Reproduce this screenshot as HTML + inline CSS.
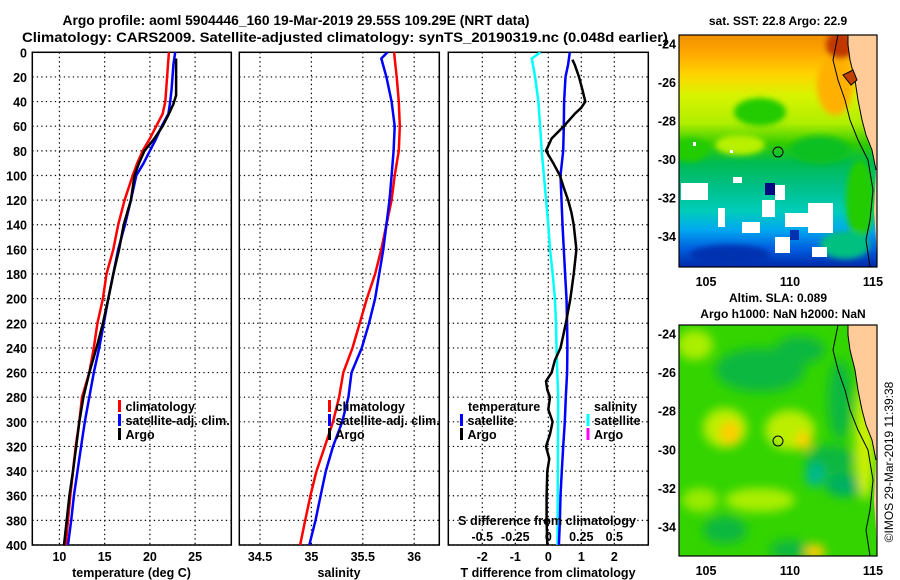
<!DOCTYPE html>
<html><head><meta charset="utf-8">
<style>
html,body{margin:0;padding:0;background:#fff;}
svg{display:block;font-family:"Liberation Sans",Arial,sans-serif;font-weight:bold;}
</style></head>
<body>
<svg id="chart" width="900" height="580" viewBox="0 0 900 580">
<defs>
  <clipPath id="c1"><rect x="32" y="52" width="199" height="493"/></clipPath>
  <clipPath id="c2"><rect x="239" y="52" width="200" height="493"/></clipPath>
  <clipPath id="c3"><rect x="448" y="52" width="200" height="493"/></clipPath>
  <clipPath id="m1"><rect x="679" y="35" width="198" height="232"/></clipPath>
  <clipPath id="m2"><rect x="679" y="325" width="198" height="231"/></clipPath>
  <linearGradient id="sstg" x1="0" y1="0" x2="0" y2="1">
    <stop offset="0" stop-color="#f09000"/>
    <stop offset="0.08" stop-color="#ffa800"/>
    <stop offset="0.17" stop-color="#ffd400"/>
    <stop offset="0.26" stop-color="#d8f400"/>
    <stop offset="0.38" stop-color="#b0ee00"/>
    <stop offset="0.47" stop-color="#30cc00"/>
    <stop offset="0.55" stop-color="#00bb50"/>
    <stop offset="0.66" stop-color="#00c08a"/>
    <stop offset="0.76" stop-color="#00ccbb"/>
    <stop offset="0.84" stop-color="#00a8f0"/>
    <stop offset="0.92" stop-color="#0060e0"/>
    <stop offset="1" stop-color="#0028a8"/>
  </linearGradient>
  <filter id="bl" x="-50%" y="-50%" width="200%" height="200%"><feGaussianBlur stdDeviation="5"/></filter>
  <filter id="bl2" x="-50%" y="-50%" width="200%" height="200%"><feGaussianBlur stdDeviation="3"/></filter>
</defs>

<text x="296" y="25" text-anchor="middle" font-size="13.5" textLength="467" lengthAdjust="spacingAndGlyphs">Argo profile: aoml 5904446_160 19-Mar-2019 29.55S 109.29E (NRT data)</text>
<text x="345" y="42" text-anchor="middle" font-size="13.5" textLength="646" lengthAdjust="spacingAndGlyphs">Climatology: CARS2009. Satellite-adjusted climatology: synTS_20190319.nc (0.048d earlier)</text>

<g id="panels"></g>

<!-- Top map: SST -->
<g>
  <text x="778" y="25" text-anchor="middle" font-size="12">sat. SST: 22.8 Argo: 22.9</text>
  <g clip-path="url(#m1)">
    <rect x="679" y="35" width="198" height="232" fill="url(#sstg)"/>
    <g filter="url(#bl2)">
      <ellipse cx="760" cy="112" rx="26" ry="14" fill="#22cc00"/>
      <ellipse cx="690" cy="150" rx="18" ry="12" fill="#22cc00"/>
      <ellipse cx="820" cy="150" rx="30" ry="14" fill="#11c020"/>
      <ellipse cx="740" cy="145" rx="25" ry="10" fill="#b8f000"/>
      <ellipse cx="835" cy="85" rx="18" ry="30" fill="#ffb000"/>
      <ellipse cx="840" cy="45" rx="14" ry="14" fill="#c03800"/>
      <ellipse cx="860" cy="200" rx="14" ry="40" fill="#22cc00"/>
      <ellipse cx="845" cy="245" rx="25" ry="14" fill="#00c080"/>
      <ellipse cx="730" cy="255" rx="40" ry="10" fill="#0030b0"/>
    </g>
    <g fill="#fff">
      <rect x="681" y="183" width="27" height="17"/><rect x="733" y="177" width="9" height="6"/>
      <rect x="742" y="222" width="18" height="11"/><rect x="775" y="185" width="10" height="15"/>
      <rect x="762" y="200" width="13" height="17"/><rect x="808" y="203" width="25" height="30"/>
      <rect x="775" y="237" width="15" height="16"/><rect x="785" y="213" width="28" height="14"/>
      <rect x="812" y="247" width="15" height="10"/><rect x="718" y="208" width="7" height="19"/>
      <rect x="693" y="142" width="3" height="4"/><rect x="730" y="150" width="3" height="3"/>
    </g>
    <rect x="765" y="183" width="10" height="12" fill="#000a80"/>
    <rect x="790" y="230" width="9" height="10" fill="#0030b0"/>
    <polygon points="848,35 877,35 877,267 877,267 876,240 874,210 876,170 872,150 866,135 862,120 858,100 855,80 850,60 848,45" fill="#ffcc99"/>
    <polyline points="838,35 833,60 838,80 845,100 850,120 858,140 868,160 873,190 870,220 866,240 870,267" fill="none" stroke="#000" stroke-width="1"/>
    <polyline points="848,35 848,45 850,60 855,80 858,100 862,120 866,135 872,150 876,170" fill="none" stroke="#000" stroke-width="1"/>
    <path d="M843,75 l8,10 l6,-5 l-4,-10 z" fill="#c04000" stroke="#000" stroke-width="1"/>
    <circle cx="778" cy="152" r="5" fill="none" stroke="#000" stroke-width="1"/>
  </g>
  <rect x="679" y="35" width="198" height="232" fill="none" stroke="#000" stroke-width="1.2"/>
</g>

<!-- Bottom map: SLA -->
<g>
  <text x="778" y="302" text-anchor="middle" font-size="12">Altim. SLA: 0.089</text>
  <text x="783" y="318" text-anchor="middle" font-size="12">Argo h1000: NaN h2000: NaN</text>
  <g clip-path="url(#m2)">
    <rect x="679" y="325" width="198" height="231" fill="#33d400"/>
    <g filter="url(#bl)">
      <ellipse cx="760" cy="370" rx="45" ry="22" fill="#11b840"/>
      <ellipse cx="800" cy="350" rx="25" ry="14" fill="#11b840"/>
      <ellipse cx="830" cy="460" rx="25" ry="15" fill="#11b840"/>
      <ellipse cx="845" cy="485" rx="20" ry="12" fill="#00b060"/>
      <ellipse cx="815" cy="475" rx="10" ry="12" fill="#00b890"/>
      <ellipse cx="725" cy="530" rx="22" ry="14" fill="#11b840"/>
      <ellipse cx="790" cy="550" rx="20" ry="10" fill="#11b840"/>
      <ellipse cx="725" cy="428" rx="22" ry="20" fill="#bbee00"/>
      <ellipse cx="730" cy="433" rx="10" ry="12" fill="#ffcc00"/>
      <ellipse cx="790" cy="430" rx="25" ry="20" fill="#bbee00"/>
      <ellipse cx="804" cy="441" rx="8" ry="9" fill="#ffd000"/>
      <ellipse cx="695" cy="345" rx="18" ry="15" fill="#aaee00"/>
      <ellipse cx="760" cy="500" rx="35" ry="12" fill="#aaee00"/>
      <ellipse cx="700" cy="500" rx="18" ry="12" fill="#99ea00"/>
      <ellipse cx="815" cy="552" rx="10" ry="8" fill="#ffcc00"/>
      <ellipse cx="840" cy="400" rx="12" ry="40" fill="#11b840"/>
      <ellipse cx="865" cy="440" rx="10" ry="60" fill="#ccf000"/>
    </g>
    <polygon points="848,325 877,325 877,556 876,530 874,500 876,460 872,440 866,425 862,410 858,390 855,370 850,350 848,335" fill="#ffcc99"/>
    <polyline points="838,325 833,350 838,370 845,390 850,410 858,430 868,450 873,480 870,510 866,530 870,556" fill="none" stroke="#000" stroke-width="1"/>
    <polyline points="848,325 848,335 850,350 855,370 858,390 862,410 866,425 872,440 876,460" fill="none" stroke="#000" stroke-width="1"/>
    <circle cx="778" cy="441" r="5" fill="none" stroke="#000" stroke-width="1"/>
  </g>
  <rect x="679" y="325" width="198" height="231" fill="none" stroke="#000" stroke-width="1.2"/>
</g>
<text transform="translate(893,462) rotate(-90)" text-anchor="middle" font-size="12" font-weight="normal">©IMOS 29-Mar-2019 11:39:38</text>

<script>
// ---------- Panel 1: temperature ----------
const tDepth = [0,10,20,30,40,50,60,70,80,90,100,120,140,160,180,200,220,240,260,280,300,320,340,360,380,400];
const tClim = [22.1,22.0,21.9,21.8,21.7,21.4,20.7,20.0,19.2,18.6,18.1,17.2,16.5,15.95,15.2,14.8,14.2,13.8,13.3,12.5,12.2,11.8,11.5,11.2,10.95,10.7];
const tSat = [22.8,22.6,22.5,22.4,22.25,22.05,21.3,20.7,20.0,19.3,18.5,17.9,17.25,16.5,15.95,15.4,14.9,14.4,13.8,13.3,12.8,12.4,12.0,11.6,11.3,10.95];
const tArgoDepth = [5,20,35,42,50,60,70,80,90,100,120,140,160,180,200,220,240,260,280,300,320,340,360,380,400];
const tArgo = [22.9,22.9,22.9,22.6,22.1,21.4,20.5,19.4,18.8,18.3,17.9,17.1,16.6,15.95,15.4,14.8,14.1,13.3,12.65,12.2,11.85,11.5,11.1,10.8,10.5];
const tTicks = [10,15,20,25];
// ---------- Panel 2: salinity ----------
const sDepth = [0,5,20,40,60,80,100,120,140,160,180,200,220,240,260,280,300,320,340,360,380,400];
const sClim = [35.805,35.81,35.83,35.85,35.86,35.85,35.81,35.78,35.73,35.68,35.62,35.54,35.47,35.40,35.31,35.27,35.21,35.13,35.05,34.99,34.94,34.89];
const sSat = [35.74,35.68,35.73,35.78,35.81,35.80,35.78,35.76,35.73,35.70,35.66,35.62,35.56,35.49,35.39,35.36,35.30,35.21,35.14,35.09,35.04,34.98];
const sTicks = [34.5,35,35.5,36];
// ---------- Panel 3: differences ----------
const dArgoDepth = [6,10,20,30,40,45,50,60,70,80,90,100,110,120,130,140,160,180,200,210,220,230,240,250,260,267,274,280,290,300,310,320,330,340,360,380,400];
const dArgoT = [0.73,0.8,0.93,1.03,1.12,1.0,0.8,0.47,0.1,-0.07,0.15,0.35,0.47,0.6,0.7,0.77,0.85,0.77,0.67,0.6,0.53,0.45,0.37,0.2,0.1,-0.07,-0.03,0.05,0,0.13,0.05,-0.07,0.03,-0.03,-0.05,-0.05,-0.03];
const dSatDepth = [0,10,20,40,60,80,100,120,140,160,180,200,220,240,260,280,300,320,340,360,380,400];
const dSatT = [0.65,0.6,0.52,0.48,0.47,0.45,0.37,0.4,0.43,0.47,0.51,0.55,0.57,0.58,0.57,0.53,0.5,0.45,0.41,0.37,0.35,0.32];
const dSatSDepth = [0,5,20,40,60,80,100,120,140,160,180,200,220,240,260,280,400];
const dSatS = [-0.06,-0.125,-0.1,-0.075,-0.062,-0.05,-0.033,-0.017,0,0.0125,0.033,0.05,0.058,0.062,0.068,0.075,0.07];
const dTTicks = [-2,-1,0,1,2];
const dSTicks = [-0.5,-0.25,0,0.25,0.5];
const dSTickLabels = ['-0.5','-0.25','0','0.25','0.5'];
const depthTicks = [0,20,40,60,80,100,120,140,160,180,200,220,240,260,280,300,320,340,360,380,400];
// ---------- Maps ----------
const latTicks = [-24,-26,-28,-30,-32,-34];
const lonTicks = [105,110,115];

const NS = 'http://www.w3.org/2000/svg';
const root = document.getElementById('panels');
function mk(tag, attrs, parent){ const e=document.createElementNS(NS,tag); for(const k in attrs) e.setAttribute(k,attrs[k]); (parent||root).appendChild(e); return e; }

const Y0=52.3, Y1=545;
const yD = d => Y0 + d*(Y1-Y0)/400;
const P = [
  {x0:32.3,x1:231.3,lo:7,hi:29,clip:'c1'},
  {x0:239.3,x1:439.3,lo:34.2987,hi:36.2443,clip:'c2'},
  {x0:448.3,x1:648.3,lo:-3.03,hi:3.03,clip:'c3'}
];
const xf = p => v => p.x0 + (v-p.lo)*(p.x1-p.x0)/(p.hi-p.lo);
const x1f = xf(P[0]), x2f = xf(P[1]), x3f = xf(P[2]);
const x3s = v => x3f(v*4);

function frame(p, xticks, xfn, showY, name){
  const g = mk('g',{});
  
  
  depthTicks.forEach(d=>{
    const gl = mk('line',{x1:p.x0,x2:p.x1,y1:yD(d),y2:yD(d),stroke:'#000','stroke-width':1.2,'stroke-dasharray':'1.3,3.2'},g);
    
    
    if(showY){
      const t = mk('text',{x:27,y:yD(d)+5,'text-anchor':'end','font-size':12.5},g);
      t.textContent = d;
      
      
    }
  });
  xticks.forEach(v=>{
    const gl = mk('line',{x1:xfn(v),x2:xfn(v),y1:Y0,y2:Y1,stroke:'#000','stroke-width':1.2,'stroke-dasharray':'1.3,3.2'},g);
    
    
    const t = mk('text',{x:xfn(v),y:561,'text-anchor':'middle','font-size':12.5},g);
    t.textContent = v;
    
    
  });
  const r = mk('rect',{x:p.x0,y:Y0,width:p.x1-p.x0,height:Y1-Y0,fill:'none',stroke:'#000','stroke-width':1.5},g);
  
  
  return g;
}
function line(depths, vals, xfn, color, w, clip, name){
  const pts = depths.map((d,i)=> xfn(vals[i]).toFixed(1)+','+yD(d).toFixed(1)).join(' ');
  const l = mk('polyline',{points:pts,fill:'none',stroke:color,'stroke-width':w,'stroke-linejoin':'round','clip-path':'url(#'+clip+')'});
  
  
}
function label(x,y,txt,name,opts){
  const t = mk('text',Object.assign({x:x,y:y,'font-size':12.5},opts||{}));
  t.textContent = txt;
  
  
  return t;
}
function legItem(x,y,color,txt,name){
  const m = mk('rect',{x:x-1.5,y:y-11,width:3,height:12,fill:color});
  
  
  label(x+6,y,txt,name,{});
}

// panel 1
frame(P[0], tTicks, x1f, true, 'temperature-panel');
line(tDepth, tClim, x1f, '#ff0000', 2.5, 'c1', 'temperature-climatology-line');
line(tDepth, tSat, x1f, '#0000ff', 2.5, 'c1', 'temperature-satellite-line');
line(tArgoDepth, tArgo, x1f, '#000000', 2.5, 'c1', 'temperature-argo-line');
label(131.5,577,'temperature (deg C)','temperature-axis-title',{'text-anchor':'middle'});
legItem(119.5,411,'#ff0000','climatology','temp-legend-climatology');
legItem(119.5,425,'#0000ff','satellite-adj. clim.','temp-legend-satellite');
legItem(119.5,439,'#000000','Argo','temp-legend-argo');

// panel 2
frame(P[1], sTicks, x2f, false, 'salinity-panel');
line(sDepth, sClim, x2f, '#ff0000', 2.5, 'c2', 'salinity-climatology-line');
line(sDepth, sSat, x2f, '#0000ff', 2.5, 'c2', 'salinity-satellite-line');
label(339,577,'salinity','salinity-axis-title',{'text-anchor':'middle'});
legItem(329.5,411,'#ff0000','climatology','sal-legend-climatology');
legItem(329.5,425,'#0000ff','satellite-adj. clim.','sal-legend-satellite');
legItem(329.5,439,'#000000','Argo','sal-legend-argo');

// panel 3
frame(P[2], dTTicks, x3f, false, 'difference-panel');
line(dSatSDepth, dSatS, x3s, '#00ffff', 2.5, 'c3', 'salinity-diff-satellite-line');
line(dSatDepth, dSatT, x3f, '#0000ff', 2.5, 'c3', 'temperature-diff-satellite-line');
line(dArgoDepth, dArgoT, x3f, '#000000', 2.5, 'c3', 'temperature-diff-argo-line');
label(548,577,'T difference from climatology','t-diff-axis-title',{'text-anchor':'middle'});
label(547,525,'S difference from climatology','s-diff-axis-title',{'text-anchor':'middle',textLength:178,lengthAdjust:'spacingAndGlyphs'});
dSTicks.forEach((v,i)=>{ label(x3s(v),541,dSTickLabels[i],'s-diff-tick-label',{'text-anchor':'middle'}); });
label(468,411,'temperature','diff-legend-temperature-heading',{});
legItem(461.5,425,'#0000ff','satellite','diff-legend-temp-satellite');
legItem(461.5,439,'#000000','Argo','diff-legend-temp-argo');
label(594,411,'salinity','diff-legend-salinity-heading',{});
legItem(588,425,'#00ffff','satellite','diff-legend-sal-satellite');
legItem(588,439,'#ff00ff','Argo','diff-legend-sal-argo');

// map axes
function mapAxes(top, bottom, latY0, latStep, lonLabelY, name){
  const g = mk('g',{});
  
  
  latTicks.forEach(v=>{
    const y = latY0 + (-24 - v)*latStep;
    const t = mk('text',{x:676,y:y+5,'text-anchor':'end','font-size':12.5},g);
    t.textContent = v;
    
    
    mk('line',{x1:679,x2:683,y1:y,y2:y,stroke:'#000'},g);
    mk('line',{x1:873,x2:877,y1:y,y2:y,stroke:'#000'},g);
  });
  lonTicks.forEach(v=>{
    const x = 706 + (v-105)*16.8;
    const t = mk('text',{x:Math.min(x,873),y:lonLabelY,'text-anchor':'middle','font-size':12.5},g);
    t.textContent = v;
    
    
    mk('line',{x1:x,x2:x,y1:top,y2:top+4,stroke:'#000'},g);
    mk('line',{x1:x,x2:x,y1:bottom-4,y2:bottom,stroke:'#000'},g);
  });
}
mapAxes(35,267,43.3,19.27,286,'sst-map-axes');
mapAxes(325,556,333.3,19.33,575,'sla-map-axes');
</script>
</svg>
</body></html>
